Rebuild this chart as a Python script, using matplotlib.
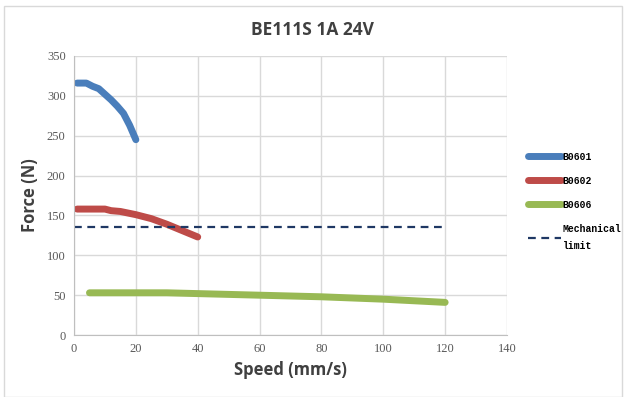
import matplotlib
matplotlib.use("Agg")
import matplotlib.pyplot as plt
from matplotlib.patches import Rectangle

title = "BE111S 1A 24V"
xlabel = "Speed (mm/s)"
ylabel = "Force (N)"

b0601_x = [1, 2, 4, 6, 8, 10, 12, 14, 16, 18, 20]
b0601_y = [316, 316, 316, 312, 309, 302, 295, 287, 278, 263, 245]
b0602_x = [1, 5, 10, 12, 15, 20, 25, 30, 35, 40]
b0602_y = [158, 158, 158, 156, 155, 151, 146, 139, 131, 123]
b0606_x = [5, 20, 30, 40, 60, 80, 100, 120]
b0606_y = [53, 53, 53, 52, 50, 48, 45, 41]
mech_x = [0, 120]
mech_y = [135, 135]

xticks = [0, 20, 40, 60, 80, 100, 120, 140]
yticks = [0, 50, 100, 150, 200, 250, 300, 350]

fig = plt.figure(figsize=(6.24, 3.97), dpi=100)
fig.patches.append(Rectangle((0.007, 0.0), 0.99, 0.985, transform=fig.transFigure,
                             fill=False, edgecolor="#d9d9d9", linewidth=1))
ax = fig.add_axes([0.1186, 0.156, 0.6939, 0.703])

lw = 5
ax.plot(b0601_x, b0601_y, color="#4A7EBB", lw=lw, solid_capstyle="round", label="B0601")
ax.plot(b0602_x, b0602_y, color="#BE4B48", lw=lw, solid_capstyle="round", label="B0602")
ax.plot(b0606_x, b0606_y, color="#98B954", lw=lw, solid_capstyle="round", label="B0606")
ax.plot(mech_x, mech_y, color="#1F3864", lw=1.6, ls=(0, (3.5, 2.5)), label="Mechanical\nlimit")

ax.set_xlim(0, 140)
ax.set_ylim(0, 350)
ax.set_xticks(xticks)
ax.set_yticks(yticks)
ax.grid(True, color="#d9d9d9", lw=1)
ax.set_axisbelow(True)
for s in ["top", "right"]:
    ax.spines[s].set_visible(False)
for s in ["left", "bottom"]:
    ax.spines[s].set_color("#bfbfbf")
ax.tick_params(length=0, labelsize=9, colors="#595959", pad=6)
for lab in ax.get_xticklabels() + ax.get_yticklabels():
    lab.set_fontfamily("Liberation Serif")

ax.set_xlabel(xlabel, fontsize=12, fontweight="bold", color="#404040", family="Open Sans", labelpad=4)
ax.set_ylabel(ylabel, fontsize=12, fontweight="bold", color="#404040", family="Open Sans", labelpad=6)
fig.text(0.5, 0.925, title, ha="center", va="center", fontsize=12.5, fontweight="bold",
         color="#404040", family="Open Sans")

leg = fig.legend(loc="upper left", bbox_to_anchor=(0.84, 0.628), frameon=False,
                 prop={"family": "Liberation Mono", "weight": "bold", "size": 7},
                 handlelength=3.4, handletextpad=0.15, labelspacing=1.45, borderaxespad=0)
leg.get_texts()[-1].set_linespacing(1.95)

fig.savefig("out.png", dpi=100)
